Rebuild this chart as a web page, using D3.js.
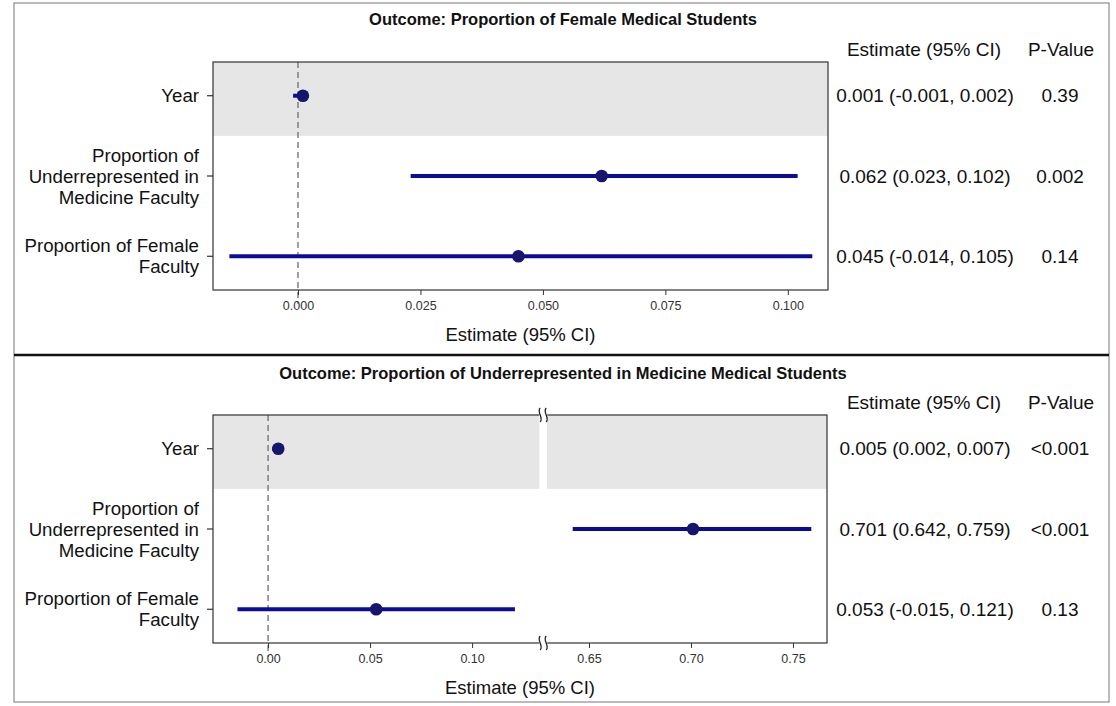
<!DOCTYPE html>
<html>
<head>
<meta charset="utf-8">
<script src="https://cdn.jsdelivr.net/npm/d3@7"></script>
<style>
  html, body { margin: 0; padding: 0; background: #fff; }
  svg { display: block; font-family: "Liberation Sans", Arial, sans-serif; }
</style>
</head>
<body>
<svg id="chart" width="1116" height="706"></svg>
<script>
// ---- Data ----
const categories = ["Year", "Proportion of Underrepresented in Medicine Faculty", "Proportion of Female Faculty"];
const categoryLines = [["Year"], ["Proportion of", "Underrepresented in", "Medicine Faculty"], ["Proportion of Female", "Faculty"]];

const femaleTitle = "Outcome: Proportion of Female Medical Students";
const femaleEst = [0.001, 0.062, 0.045];
const femaleLo  = [-0.001, 0.023, -0.014];
const femaleHi  = [0.002, 0.102, 0.105];
const femaleP   = ["0.39", "0.002", "0.14"];
const femaleTicks = [0, 0.025, 0.05, 0.075, 0.1];
const femaleTickLabels = ["0.000", "0.025", "0.050", "0.075", "0.100"];

const urmTitle = "Outcome: Proportion of Underrepresented in Medicine Medical Students";
const urmEst = [0.005, 0.701, 0.053];
const urmLo  = [0.002, 0.642, -0.015];
const urmHi  = [0.007, 0.759, 0.121];
const urmP   = ["<0.001", "<0.001", "0.13"];
const urmTicksLeft = [0, 0.05, 0.10];
const urmTickLabelsLeft = ["0.00", "0.05", "0.10"];
const urmTicksRight = [0.65, 0.70, 0.75];
const urmTickLabelsRight = ["0.65", "0.70", "0.75"];

const colHeaderEst = "Estimate (95% CI)";
const colHeaderP = "P-Value";
const axisTitle = "Estimate (95% CI)";

// ---- Drawing ----
const svg = d3.select("#chart");
const lineColor = "#0b0b98";
const dotColor = "#16166e";
const fmt = v => v.toFixed(3);

// outer frame
svg.append("rect").attr("x", 14).attr("y", 3).attr("width", 1095).attr("height", 699)
  .attr("fill", "none").attr("stroke", "#777").attr("stroke-width", 1);
svg.append("line").attr("x1", 14).attr("x2", 1109).attr("y1", 355).attr("y2", 355)
  .attr("stroke", "#111").attr("stroke-width", 2.5);

function squiggle(g, x, y) {
  const p = `M${x},${y - 7} C${x - 4},${y - 3} ${x + 4},${y + 3} ${x},${y + 7}`;
  g.append("path").attr("d", p).attr("fill", "none").attr("stroke", "#222").attr("stroke-width", 1.3);
}

function drawPanel(opt) {
  const g = svg.append("g");
  const { top, bottom, left, right } = opt.box;
  const y = d3.scalePoint().domain(categories).range([top, bottom]).padding(0.42);
  const step = y.step();
  const bandBottom = y(categories[0]) + step / 2;

  // title
  g.append("text").attr("x", 563).attr("y", opt.titleY).attr("text-anchor", "middle")
    .attr("font-size", 16.5).attr("font-weight", "bold").attr("fill", "#111").text(opt.title);

  // gray band(s)
  opt.segments.forEach(s => {
    g.append("rect").attr("x", s.scale.range()[0]).attr("y", top)
      .attr("width", s.scale.range()[1] - s.scale.range()[0]).attr("height", bandBottom - top)
      .attr("fill", "#e6e6e6");
  });

  // zero reference line
  const zeroSeg = opt.segments[0].scale;
  g.append("line").attr("x1", zeroSeg(0)).attr("x2", zeroSeg(0)).attr("y1", top).attr("y2", bottom + 14)
    .attr("stroke", "#777").attr("stroke-width", 1.4).attr("stroke-dasharray", "6,4");

  // box
  g.append("rect").attr("x", left).attr("y", top).attr("width", right - left).attr("height", bottom - top)
    .attr("fill", "none").attr("stroke", "#333").attr("stroke-width", 1.2);

  if (opt.segments.length > 1) {
    const gx0 = opt.segments[0].scale.range()[1], gx1 = opt.segments[1].scale.range()[0];
    const mid = (gx0 + gx1) / 2;
    [top, bottom].forEach(yy => {
      g.append("rect").attr("x", mid - 4).attr("y", yy - 2).attr("width", 8).attr("height", 4).attr("fill", "#fff");
      squiggle(g, mid - 3, yy);
      squiggle(g, mid + 3, yy);
    });
  }

  // x axes
  opt.segments.forEach(s => {
    const ax = d3.axisBottom(s.scale).tickValues(s.ticks).tickSize(5)
      .tickFormat((d, i) => s.labels[i]);
    const a = g.append("g").attr("transform", `translate(0,${bottom})`).call(ax);
    a.select(".domain").remove();
    a.selectAll(".tick line").attr("stroke", "#333");
    a.selectAll(".tick text").attr("font-size", 12.5).attr("fill", "#333")
      .attr("font-family", "Liberation Sans, Arial, sans-serif").attr("dy", "0.95em");
  });

  // axis title
  g.append("text").attr("x", (left + right) / 2).attr("y", bottom + 51).attr("text-anchor", "middle")
    .attr("font-size", 18.5).attr("fill", "#111").text(axisTitle);

  // y ticks and labels
  categories.forEach((c, i) => {
    const yy = y(c);
    g.append("line").attr("x1", left - 6).attr("x2", left).attr("y1", yy).attr("y2", yy)
      .attr("stroke", "#333").attr("stroke-width", 1.2);
    const lines = categoryLines[i];
    const lh = 21;
    const t = g.append("text").attr("text-anchor", "end").attr("font-size", 18.7).attr("fill", "#111");
    lines.forEach((l, j) => {
      t.append("tspan").attr("x", left - 14)
        .attr("y", yy + (j - (lines.length - 1) / 2) * lh)
        .attr("dy", "0.35em").text(l);
    });
  });

  // intervals & points
  const pick = v => (opt.segments.length > 1 && v > opt.splitAt) ? opt.segments[1].scale : opt.segments[0].scale;
  categories.forEach((c, i) => {
    const yy = y(c);
    const sx = pick(opt.est[i]);
    g.append("line").attr("x1", sx(opt.lo[i])).attr("x2", sx(opt.hi[i])).attr("y1", yy).attr("y2", yy)
      .attr("stroke", lineColor).attr("stroke-width", 4);
    g.append("circle").attr("cx", sx(opt.est[i])).attr("cy", yy).attr("r", 6.3).attr("fill", dotColor);
  });

  // table columns
  g.append("text").attr("x", 924).attr("y", top - 6).attr("text-anchor", "middle")
    .attr("font-size", 19).attr("fill", "#111").text(colHeaderEst);
  g.append("text").attr("x", 1061).attr("y", top - 6).attr("text-anchor", "middle")
    .attr("font-size", 19).attr("fill", "#111").text(colHeaderP);
  categories.forEach((c, i) => {
    const yy = y(c);
    g.append("text").attr("x", 925).attr("y", yy).attr("dy", "0.35em").attr("text-anchor", "middle")
      .attr("font-size", 19).attr("fill", "#111")
      .text(`${fmt(opt.est[i])} (${fmt(opt.lo[i])}, ${fmt(opt.hi[i])})`);
    g.append("text").attr("x", 1060).attr("y", yy).attr("dy", "0.35em").attr("text-anchor", "middle")
      .attr("font-size", 19).attr("fill", "#111").text(opt.p[i]);
  });
}

// Panel 1
drawPanel({
  title: femaleTitle, titleY: 25,
  box: { top: 62, bottom: 290, left: 213, right: 828 },
  segments: [{ scale: d3.scaleLinear().domain([-0.01735, 0.1082]).range([213, 828]), ticks: femaleTicks, labels: femaleTickLabels }],
  est: femaleEst, lo: femaleLo, hi: femaleHi, p: femaleP
});

// Panel 2 (broken axis)
drawPanel({
  title: urmTitle, titleY: 379,
  box: { top: 415, bottom: 643, left: 213, right: 827 },
  splitAt: 0.4,
  segments: [
    { scale: d3.scaleLinear().domain([-0.027, 0.133]).range([213, 539.4]), ticks: urmTicksLeft, labels: urmTickLabelsLeft },
    { scale: d3.scaleLinear().domain([0.6294, 0.7667]).range([547, 827]), ticks: urmTicksRight, labels: urmTickLabelsRight }
  ],
  est: urmEst, lo: urmLo, hi: urmHi, p: urmP
});
</script>
</body>
</html>
